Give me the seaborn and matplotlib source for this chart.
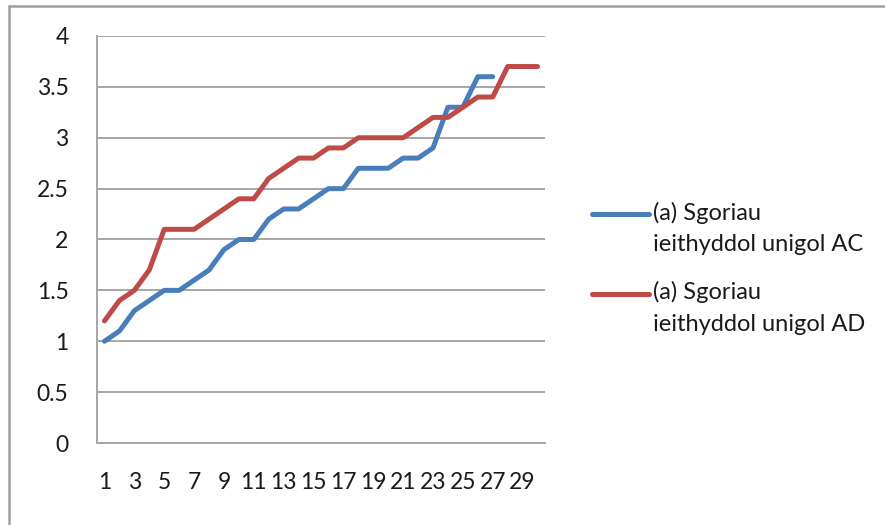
import numpy as np
import pandas as pd
import seaborn as sns
import matplotlib
matplotlib.use("Agg")
import matplotlib.pyplot as plt
from matplotlib.lines import Line2D
from matplotlib.legend_handler import HandlerLine2D

# ---- data ----
x_ac = list(range(1, 28))
ac = [1.0, 1.1, 1.3, 1.4, 1.5, 1.5, 1.6, 1.7, 1.9, 2.0, 2.0, 2.2, 2.3, 2.3, 2.4,
      2.5, 2.5, 2.7, 2.7, 2.7, 2.8, 2.8, 2.9, 3.3, 3.3, 3.6, 3.6]
x_ad = list(range(1, 31))
ad = [1.2, 1.4, 1.5, 1.7, 2.1, 2.1, 2.1, 2.2, 2.3, 2.4, 2.4, 2.6, 2.7, 2.8, 2.8,
      2.9, 2.9, 3.0, 3.0, 3.0, 3.0, 3.1, 3.2, 3.2, 3.3, 3.4, 3.4, 3.7, 3.7, 3.7]
label_ac = "(a) Sgoriau\nieithyddol unigol AC"
label_ad = "(a) Sgoriau\nieithyddol unigol AD"
y_ticks = [0, 0.5, 1, 1.5, 2, 2.5, 3, 3.5, 4]
y_labels = ["0", "0.5", "1", "1.5", "2", "2.5", "3", "3.5", "4"]
x_labels = [str(i) for i in range(1, 31, 2)]

df = pd.DataFrame({
    "x": x_ac + x_ad,
    "y": ac + ad,
    "series": [label_ac] * len(ac) + [label_ad] * len(ad),
})

sns.set_theme(style="white")
plt.rcParams["font.family"] = ["Lato", "DejaVu Sans"]

W, H = 885, 525
fig = plt.figure(figsize=(W / 100, H / 100), dpi=100)
ax = fig.add_axes([97 / W, 1 - 443 / H, (545 - 97) / W, (443 - 36) / H])

blue = "#4a7ebb"
red = "#be4b48"
sns.lineplot(data=df, x="x", y="y", hue="series", palette=[blue, red],
             linewidth=3.6, ax=ax, legend=False, solid_capstyle="round",
             solid_joinstyle="round")

grid_c = "#a6a6a6"
txt_c = "#1a1a1a"
ax.set_xlim(0.5, 30.5)
ax.set_ylim(0, 4)
ax.set_yticks(y_ticks)
ax.set_yticklabels(y_labels)
ax.yaxis.grid(True, color=grid_c, linewidth=1.4)
ax.xaxis.grid(False)
ax.set_axisbelow(True)

ax.set_xticks(np.arange(0.5, 31, 1.0))
ax.set_xticklabels([])
ax.set_xticks(np.arange(1, 31, 2), minor=True)
ax.set_xticklabels(x_labels, minor=True)
ax.tick_params(axis="x", which="major", length=7, width=1.3, color=grid_c, direction="out")
ax.tick_params(axis="x", which="minor", length=0, pad=21, labelsize=16.5, labelcolor=txt_c)
ax.tick_params(axis="y", length=8, width=1.3, color=grid_c, direction="out",
               pad=12.5, labelsize=16.5, labelcolor=txt_c)
ax.set_xlabel("")
ax.set_ylabel("")
for s in ["top", "right"]:
    ax.spines[s].set_visible(False)
for s in ["left", "bottom"]:
    ax.spines[s].set_color(grid_c)
    ax.spines[s].set_linewidth(1.4)


class TopHandler(HandlerLine2D):
    def create_artists(self, legend, orig_handle, xdescent, ydescent, width,
                       height, fontsize, trans):
        arts = super().create_artists(legend, orig_handle, xdescent, ydescent,
                                      width, height, fontsize, trans)
        for a in arts:
            a.set_ydata(np.asarray(a.get_ydata()) + 0.62 * fontsize)
        return arts


handles = [Line2D([], [], color=blue, linewidth=3.6, solid_capstyle="round"),
           Line2D([], [], color=red, linewidth=3.6, solid_capstyle="round")]
leg = fig.legend(handles, [label_ac, label_ad], loc="upper left",
                 bbox_to_anchor=(592 / W, 1 - 202 / H), frameon=False,
                 fontsize=17, handlelength=2.4, handletextpad=0.18,
                 borderpad=0, borderaxespad=0, labelspacing=1.1,
                 handler_map={Line2D: TopHandler()})
for t in leg.get_texts():
    t.set_linespacing(1.6)
    t.set_color(txt_c)

# chart area border (only left and top visible in crop)
border = "#a0a0a0"
fig.add_artist(Line2D([8.5 / W, 8.5 / W], [0, 1 - 6 / H], color=border,
                      linewidth=1.8, transform=fig.transFigure))
fig.add_artist(Line2D([8.5 / W, 1], [1 - 6 / H, 1 - 6 / H], color=border,
                      linewidth=1.8, transform=fig.transFigure))

fig.savefig("out.png", dpi=100)
